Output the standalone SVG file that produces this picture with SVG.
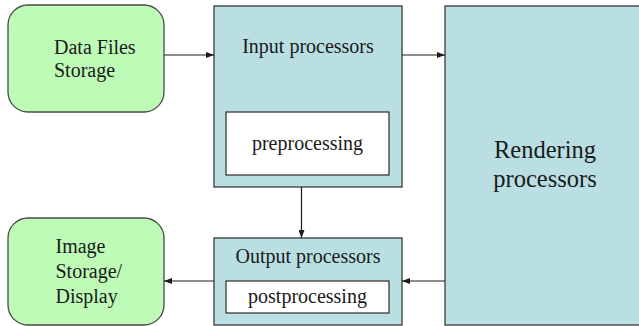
<svg xmlns="http://www.w3.org/2000/svg" width="639" height="326" viewBox="0 0 639 326">
<style>
.store{fill:#bdfbb6;stroke:#4a4a4a;stroke-width:1.3}
.proc{fill:#b9dfe2;stroke:#3a3a3a;stroke-width:1.3}
.inner{fill:#ffffff;stroke:#3a3a3a;stroke-width:1.3}
text{font-family:"Liberation Serif","Times New Roman",serif;font-size:20px;fill:#1a1a1a}
.c{text-anchor:middle}
.big{font-size:24.5px}
.conn{stroke:#1a1a1a;stroke-width:1.2;fill:none;marker-end:url(#ah)}
</style>
<defs>
<marker id="ah" viewBox="0 0 8 6" refX="8" refY="3" markerWidth="8" markerHeight="6" markerUnits="userSpaceOnUse" orient="auto">
<path d="M0,0 L8,3 L0,6 z" fill="#1a1a1a"/>
</marker>
</defs>
<rect width="639" height="326" fill="#ffffff"/>
<g id="data-files">
<rect class="store" x="8" y="5" width="156" height="107" rx="20" ry="20"/>
<text x="54" y="54">Data Files</text>
<text x="54" y="77">Storage</text>
</g>
<g id="input-processors">
<rect class="proc" x="214" y="6" width="188" height="181"/>
<text class="c" x="308" y="53">Input processors</text>
<rect class="inner" x="226" y="112" width="163" height="63"/>
<text class="c" x="307.5" y="150">preprocessing</text>
</g>
<g id="rendering">
<rect class="proc" x="445" y="6" width="200" height="319"/>
<text class="c big" x="545" y="158">Rendering</text>
<text class="c big" x="545" y="187">processors</text>
</g>
<g id="output-processors">
<rect class="proc" x="214" y="238" width="188" height="87"/>
<text class="c" x="308" y="263">Output processors</text>
<rect class="inner" x="226" y="281" width="163" height="32"/>
<text class="c" x="307.5" y="303">postprocessing</text>
</g>
<g id="image-storage">
<rect class="store" x="8" y="218" width="156" height="107" rx="20" ry="20"/>
<text x="55.5" y="253">Image</text>
<text x="55.5" y="278">Storage/</text>
<text x="55.5" y="303">Display</text>
</g>
<g id="connectors">
<line class="conn" x1="164" y1="55" x2="214" y2="55"/>
<line class="conn" x1="402" y1="55" x2="445" y2="55"/>
<line class="conn" x1="301.5" y1="187" x2="301.5" y2="238"/>
<line class="conn" x1="445" y1="281" x2="402" y2="281"/>
<line class="conn" x1="214" y1="281" x2="164" y2="281"/>
</g>
</svg>
